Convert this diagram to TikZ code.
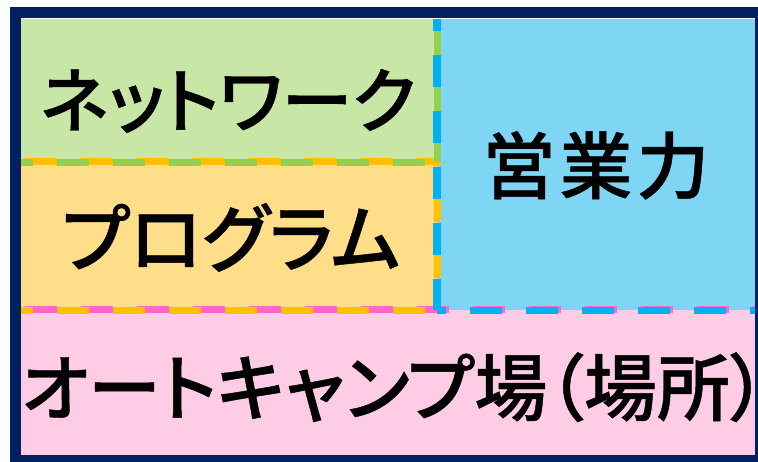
\documentclass[tikz,border=0pt]{standalone}
\usepackage{fontspec}
\newfontfamily\jp{Noto Sans CJK JP}[UprightFont={* Medium}, RawFeature=+palt, FakeBold=0.6]
\newfontfamily\jpf{Noto Sans CJK JP}[UprightFont={* Medium}, FakeBold=0.6]
\definecolor{navy}{RGB}{0,32,96}
\definecolor{gfill}{RGB}{200,231,166}
\definecolor{yfill}{RGB}{255,222,137}
\definecolor{bfill}{RGB}{127,213,244}
\definecolor{pfill}{RGB}{255,204,229}
\definecolor{gline}{RGB}{146,208,80}
\definecolor{yline}{RGB}{255,192,0}
\definecolor{bline}{RGB}{0,176,240}
\definecolor{pline}{RGB}{255,102,204}
\tikzset{
  box/.style={rectangle, inner sep=0pt, draw=none, anchor=north west},
  dline/.style={line width=7pt, dash pattern=on 32pt off 24pt},
  lbl/.style={inner sep=0pt, text=black, text height=63pt, text depth=9pt},
}
\begin{document}
\begin{tikzpicture}[x=1pt, y=-1pt]
\useasboundingbox (0,0) rectangle (758,462);
\fill[white] (0,0) rectangle (758,462);
% boxes
\node[box, fill=gfill, minimum width=416pt, minimum height=143pt] (g) at (21,19) {};
\node[box, fill=yfill, minimum width=416pt, minimum height=148pt] (y) at (21,162) {};
\node[box, fill=bfill, minimum width=322pt, minimum height=291pt] (b) at (437,19) {};
\node[box, fill=pfill, minimum width=738pt, minimum height=147pt] (p) at (21,310) {};
% dashed borders
\draw[dline, pline, dash phase=52pt] (p.north west) -- (p.north east);
\draw[dline, yline, dash phase=52pt] (y.north west) -- (y.north east);
\draw[dline, yline, dash phase=20pt] (y.south west) -- (y.south east);
\draw[dline, yline, dash phase=28pt] (y.north east) -- (y.south east);
\draw[dline, gline, dash phase=20pt] (g.south west) -- (g.south east);
\draw[dline, gline, dash phase=48pt] (g.north east) -- (g.south east);
\draw[dline, bline, dash phase=20pt, line width=8pt] (b.north west) -- (b.south west);
\draw[dline, bline, dash phase=23pt] (b.south west) -- (b.south east);
% labels
\node[lbl, font=\jp\fontsize{71}{80}\selectfont] (gt) at (228,100) {ネットワーク};
\node[lbl, font=\jp\fontsize{74}{80}\selectfont] (yt) at (231,239) {プログラム};
\node[lbl, font=\jpf\fontsize{73}{80}\selectfont] (bt) at (596,166) {営\hspace{4pt}業\hspace{4pt}力};
\node[lbl, anchor=west, font=\jp\fontsize{73}{80}\selectfont] (pt) at (21,388) {オートキャンプ場（場所）};
% frame
\coordinate (f1) at (15.5,13);
\coordinate (f2) at (760.5,460.5);
\draw[navy, line width=11pt] (f1) rectangle (f2);
\end{tikzpicture}
\end{document}
